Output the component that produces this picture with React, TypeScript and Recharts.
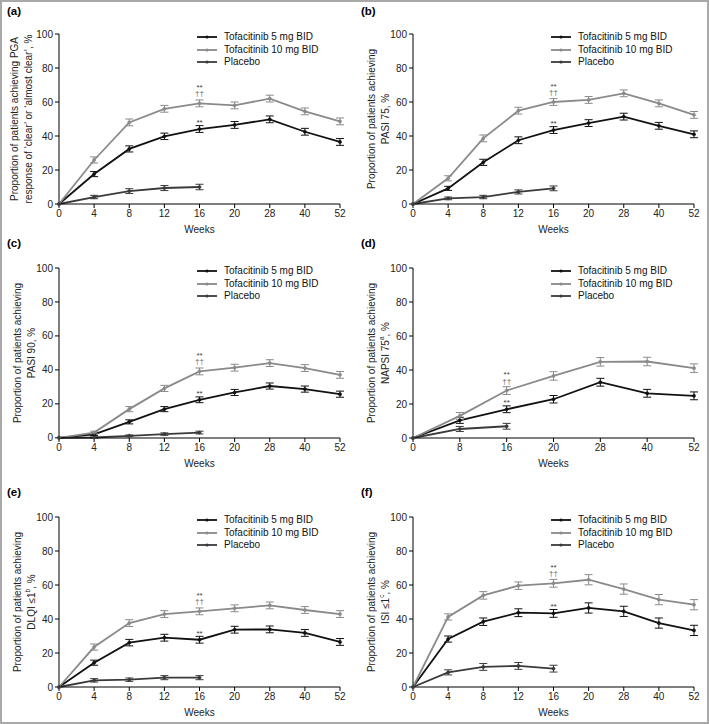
import React from "react"
import { LineChart, Line, XAxis, YAxis, ErrorBar, Legend, LabelList } from "recharts"

const weeks = ["0", "4", "8", "12", "16", "20", "28", "40", "52"]
const weeksNapsi = ["0", "8", "16", "20", "28", "40", "52"]
const yTicks = [0, 20, 40, 60, 80, 100]

const names = ["Tofacitinib 5 mg BID", "Tofacitinib 10 mg BID", "Placebo"]
const colors = ["#111111", "#8a8a8a", "#3a3a3a"]

// significance marks at week 16
const sig5 = ["", "", "", "", "**", "", "", "", ""]
const sig10 = ["", "", "", "", "**|††", "", "", "", ""]
const sigNapsi5 = ["", "", "**", "", "", "", ""]
const sigNapsi10 = ["", "", "**|††", "", "", "", ""]

// (a) PGA clear / almost clear
const pga5 = [0, 17.6, 32.4, 39.8, 44.1, 46.5, 49.8, 42.5, 36.5]
const pga5Err = [0, 1.5, 1.8, 1.9, 2, 2, 2, 2, 2]
const pga10 = [0, 25.9, 48, 56, 59.2, 58, 62, 54.5, 48.6]
const pga10Err = [0, 1.8, 2, 2, 2, 2, 2, 2, 2]
const pgaPbo = [0, 4.1, 7.6, 9.4, 10, null, null, null, null]
const pgaPboErr = [0, 1, 1.4, 1.5, 1.6, null, null, null, null]

// (b) PASI 75
const p75_5 = [0, 9.2, 24.5, 37.5, 43.5, 47.6, 51.4, 46, 41]
const p75_5Err = [0, 1.2, 1.8, 2, 2, 2, 2, 2, 2]
const p75_10 = [0, 15.1, 38.6, 54.9, 60, 61.2, 65.1, 59.2, 52.4]
const p75_10Err = [0, 1.5, 2, 2, 2, 2, 2, 2, 2]
const p75Pbo = [0, 3.3, 4.1, 7.1, 9.2, null, null, null, null]
const p75PboErr = [0, 0.8, 1, 1.2, 1.4, null, null, null, null]

// (c) PASI 90
const p90_5 = [0, 2, 9.4, 16.9, 22.4, 26.7, 30.5, 28.7, 25.7]
const p90_5Err = [0, 0.6, 1.2, 1.5, 1.7, 1.8, 1.8, 1.8, 1.8]
const p90_10 = [0, 3.1, 16.9, 29.1, 39.1, 41.3, 44, 41.1, 37.1]
const p90_10Err = [0, 0.8, 1.5, 1.8, 2, 2, 2, 2, 2]
const p90Pbo = [0, 0.2, 1.2, 2.2, 3.1, null, null, null, null]
const p90PboErr = [0, 0.3, 0.5, 0.7, 0.8, null, null, null, null]

// (d) NAPSI 75
const napsi5 = [0, 10.4, 16.9, 22.8, 32.8, 26.3, 24.8]
const napsi5Err = [0, 1.8, 2, 2.2, 2.3, 2.3, 2.3]
const napsi10 = [0, 13, 27.9, 36.5, 44.8, 45, 41.1]
const napsi10Err = [0, 2, 2.3, 2.5, 2.5, 2.5, 2.5]
const napsiPbo = [0, 5.3, 6.9, null, null, null, null]
const napsiPboErr = [0, 1.5, 1.7, null, null, null, null]

// (e) DLQI <=1
const dlqi5 = [0, 14.3, 26.1, 29, 27.8, 33.7, 33.9, 31.8, 26.5]
const dlqi5Err = [0, 1.5, 1.9, 2, 2, 2, 2, 2, 2]
const dlqi10 = [0, 23.5, 37.6, 42.9, 44.5, 46.3, 48, 45.3, 42.9]
const dlqi10Err = [0, 1.8, 2, 2, 2, 2, 2, 2, 2]
const dlqiPbo = [0, 3.9, 4.3, 5.5, 5.5, null, null, null, null]
const dlqiPboErr = [0, 1, 1, 1.2, 1.2, null, null, null, null]

// (f) ISI <=1
const isi5 = [0, 28.2, 38.4, 43.7, 43.3, 46.5, 44.5, 37.6, 33.3]
const isi5Err = [0, 1.8, 2.2, 2.3, 2.3, 3, 3, 3, 3]
const isi10 = [0, 41.2, 53.9, 59.6, 61, 63.1, 57.6, 51.4, 48.4]
const isi10Err = [0, 1.8, 2.2, 2.2, 2.3, 3, 3, 3, 3]
const isiPbo = [0, 8.6, 11.8, 12.4, 10.8, null, null, null, null]
const isiPboErr = [0, 1.5, 2, 2, 2, null, null, null, null]

function rows(cats: string[], v5: any[], e5: any[], v10: any[], e10: any[], vp: any[], ep: any[], s5: string[], s10: string[]) {
  return cats.map((week, i) => ({
    week, v5: v5[i], e5: e5[i], v10: v10[i], e10: e10[i], vp: vp[i], ep: ep[i], s5: s5[i], s10: s10[i],
  }))
}

type TitleLine = string | [string, string, string]

const panels = [
  {
    tag: "(a)", left: 0, top: 0, tagY: 18, titleX: 28,
    title: ["Proportion of patients achieving PGA", "response of \u2018clear\u2019 or \u2018almost clear\u2019, %"] as TitleLine[],
    data: rows(weeks, pga5, pga5Err, pga10, pga10Err, pgaPbo, pgaPboErr, sig5, sig10),
  },
  {
    tag: "(b)", left: 354, top: 0, tagY: 18, titleX: 31,
    title: ["Proportion of patients achieving", "PASI 75, %"] as TitleLine[],
    data: rows(weeks, p75_5, p75_5Err, p75_10, p75_10Err, p75Pbo, p75PboErr, sig5, sig10),
  },
  {
    tag: "(c)", left: 0, top: 234, tagY: 16, titleX: 31,
    title: ["Proportion of patients achieving", "PASI 90, %"] as TitleLine[],
    data: rows(weeks, p90_5, p90_5Err, p90_10, p90_10Err, p90Pbo, p90PboErr, sig5, sig10),
  },
  {
    tag: "(d)", left: 354, top: 234, tagY: 16, titleX: 31,
    title: ["Proportion of patients achieving", ["NAPSI 75", "a", ", %"]] as TitleLine[],
    data: rows(weeksNapsi, napsi5, napsi5Err, napsi10, napsi10Err, napsiPbo, napsiPboErr, sigNapsi5, sigNapsi10),
  },
  {
    tag: "(e)", left: 0, top: 483, tagY: 16, titleX: 31,
    title: ["Proportion of patients achieving", ["DLQI \u22641", "b", ", %"]] as TitleLine[],
    data: rows(weeks, dlqi5, dlqi5Err, dlqi10, dlqi10Err, dlqiPbo, dlqiPboErr, sig5, sig10),
  },
  {
    tag: "(f)", left: 354, top: 483, tagY: 16, titleX: 31,
    title: ["Proportion of patients achieving", ["ISI \u22641", "c", ", %"]] as TitleLine[],
    data: rows(weeks, isi5, isi5Err, isi10, isi10Err, isiPbo, isiPboErr, sig5, sig10),
  },
]

const PLOT_TOP = 34
const PLOT_H = 170

function AxisTitle({ lines, lastX }: { lines: TitleLine[]; lastX: number }) {
  const cy = PLOT_TOP + PLOT_H / 2
  return (
    <g>
      {lines.map((ln, i) => {
        const x = lastX - (lines.length - 1 - i) * 13.5
        return (
          <text key={i} transform={`translate(${x},${cy}) rotate(-90)`} textAnchor="middle"
            dominantBaseline="central" fontSize={10} fill="#222">
            {typeof ln === "string" ? ln : (
              <>
                {ln[0]}
                <tspan fontSize={6.5} baselineShift="super">{ln[1]}</tspan>
                {ln[2]}
              </>
            )}
          </text>
        )
      })}
    </g>
  )
}

function SigMark(props: any) {
  const { x, y, value } = props
  if (!value || x == null || y == null) return null
  const parts = String(value).split("|")
  if (parts.length === 1) {
    return <text x={x} y={y - 4} textAnchor="middle" fontSize={8} fill="#333">{parts[0]}</text>
  }
  // stars above daggers, kept in one text element
  return (
    <text x={x} y={y - 13.5} textAnchor="middle" fontSize={8} fill="#444">
      <tspan x={x}>{parts[0]}</tspan>
      <tspan x={x} dy={6.5} fill="#666">{parts[1]}</tspan>
    </text>
  )
}

function LegendBox() {
  return (
    <div style={{ fontSize: 10, color: "#111", lineHeight: "12.5px" }}>
      {names.map((n, i) => (
        <div key={n} style={{ display: "flex", alignItems: "center", height: 12.5 }}>
          <svg width={27} height={8} style={{ flex: "none" }}>
            <line x1={0} y1={4} x2={20} y2={4} stroke={colors[i]} strokeWidth={1.8} />
            <circle cx={10} cy={4} r={1.6} fill={colors[i]} />
          </svg>
          <span style={{ whiteSpace: "nowrap" }}>{n}</span>
        </div>
      ))}
    </div>
  )
}

function Panel({ p }: { p: (typeof panels)[number] }) {
  const series = [
    { key: "v5", err: "e5", sig: "s5" },
    { key: "v10", err: "e10", sig: "s10" },
    { key: "vp", err: "ep", sig: null },
  ]
  return (
    <div style={{ position: "absolute", left: p.left, top: p.top, width: 354, height: 240 }}>
      <div style={{ position: "absolute", left: 7, top: p.tagY - 13, fontWeight: "bold", fontSize: 11.5 }}>{p.tag}</div>
      <LineChart width={354} height={240} data={p.data} margin={{ top: PLOT_TOP, right: 14, left: 29, bottom: 6 }}>
        <XAxis dataKey="week" tickSize={4} tickMargin={2} height={30} stroke="#000"
          tick={{ fontSize: 10, fill: "#222" }}
          label={{ value: "Weeks", position: "insideBottom", offset: 1, fontSize: 10, fill: "#222" }} />
        <YAxis type="number" domain={[0, 100]} ticks={yTicks} width={30} tickSize={4} tickMargin={2}
          stroke="#000" tick={{ fontSize: 10, fill: "#222" }} interval={0}
          label={{ content: () => <AxisTitle lines={p.title} lastX={p.titleX} /> }} />
        <Legend layout="vertical" align="center" verticalAlign="middle" content={LegendBox}
          wrapperStyle={{ top: 31, left: 197, right: "auto", bottom: "auto", width: 150 }} />
        {series.map((s, i) => (
          <Line key={s.key} dataKey={s.key} name={names[i]} stroke={colors[i]} strokeWidth={1.8}
            dot={{ r: 1.6, fill: colors[i], stroke: colors[i], strokeWidth: 0.5 }} activeDot={false}
            connectNulls={false} isAnimationActive={false}>
            <ErrorBar dataKey={s.err} width={4} strokeWidth={1} stroke={colors[i]} direction="y" />
            {s.sig && <LabelList dataKey={s.sig} content={SigMark} />}
          </Line>
        ))}
      </LineChart>
    </div>
  )
}

export default function App() {
  return (
    <div style={{
      position: "absolute", left: 0, top: 0, width: 709, height: 724, boxSizing: "border-box",
      border: "2px solid #a9a9a9", background: "#fff", fontFamily: "'Liberation Sans', Arial, sans-serif",
    }}>
      <div style={{ position: "absolute", left: -2, top: -2 }}>
        {panels.map((p) => <Panel key={p.tag} p={p} />)}
      </div>
    </div>
  )
}
